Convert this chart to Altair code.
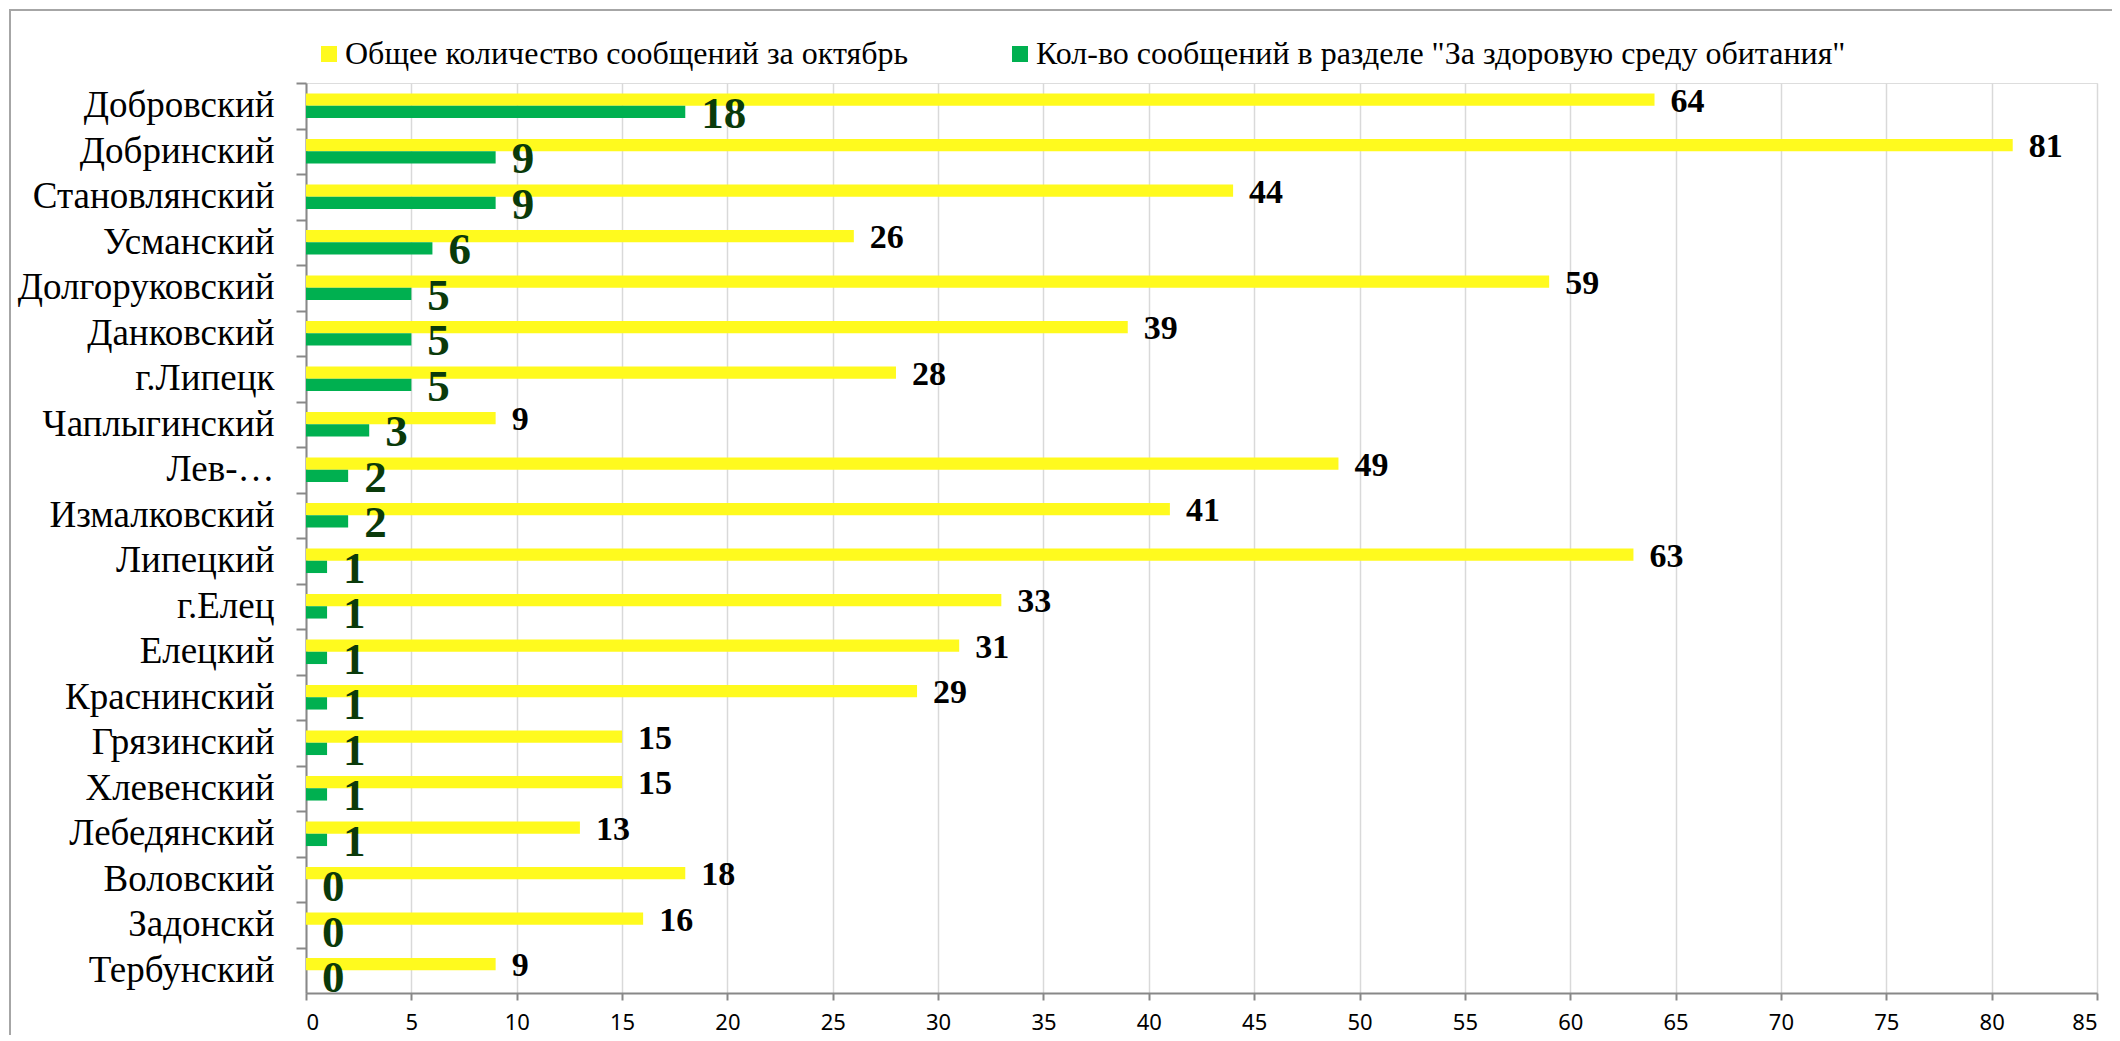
import altair as alt
import pandas as pd

districts = ["Добровский", "Добринский", "Становлянский", "Усманский", "Долгоруковский",
             "Данковский", "г.Липецк", "Чаплыгинский", "Лев-…", "Измалковский",
             "Липецкий", "г.Елец", "Елецкий", "Краснинский", "Грязинский",
             "Хлевенский", "Лебедянский", "Воловский", "Задонскй", "Тербунский"]
total_oct = [64, 81, 44, 26, 59, 39, 28, 9, 49, 41, 63, 33, 31, 29, 15, 15, 13, 18, 16, 9]
healthy_env = [18, 9, 9, 6, 5, 5, 5, 3, 2, 2, 1, 1, 1, 1, 1, 1, 1, 0, 0, 0]
series_names = ["Общее количество сообщений за октябрь",
                "Кол-во сообщений в разделе \"За здоровую среду обитания\""]
series_colors = ["#FFFA1E", "#00B050"]
x_ticks = list(range(0, 90, 5))

rows = []
for d, t, h in zip(districts, total_oct, healthy_env):
    rows.append({"district": d, "series": series_names[0], "value": t})
    rows.append({"district": d, "series": series_names[1], "value": h})
df = pd.DataFrame(rows)

W, H = 1791, 910
SERIF = "Liberation Serif"

y_enc = alt.Y("district:N", sort=districts,
              scale=alt.Scale(paddingInner=0.46, paddingOuter=0.23),
              axis=alt.Axis(title=None, labelFont=SERIF, labelFontSize=37, labelColor="#000000",
                            labelPadding=22, tickSize=10, tickColor="#888888", tickWidth=2,
                            domainColor="#888888", domainWidth=2, grid=False,
                            tickOffset=-22.75, labelOffset=22.75, labelLimit=400))
x_enc = alt.X("value:Q", scale=alt.Scale(domain=[0, 85], nice=False),
              axis=alt.Axis(title=None, values=x_ticks, labelFont="Noto Sans", labelFontSize=22,
                            labelColor="#000000", tickSize=7, tickColor="#888888", tickWidth=2,
                            domainColor="#888888", domainWidth=2, labelPadding=12,
                            grid=True, gridColor="#D9D9D9", gridWidth=1.5))
yoff = alt.YOffset("series:N", sort=series_names,
                   scale=alt.Scale(domain=series_names, paddingInner=0, paddingOuter=0))

bars = alt.Chart(df).mark_bar(size=12.3).encode(
    y=y_enc, x=x_enc, yOffset=yoff,
    color=alt.Color("series:N", sort=series_names,
                    scale=alt.Scale(domain=series_names, range=series_colors),
                    legend=alt.Legend(title=None, orient="none", direction="horizontal",
                                      legendX=7, legendY=-45, symbolType="square",
                                      symbolSize=256, symbolStrokeWidth=0, labelFont=SERIF,
                                      labelFontSize=32, labelColor="#000000", labelOffset=0,
                                      columnPadding=95, labelLimit=1200))
)

lab_total = alt.Chart(df).transform_filter(
    alt.datum.series == series_names[0]
).mark_text(align="left", baseline="middle", dx=16, dy=2, font=SERIF, fontSize=34,
            fontWeight="bold", color="#000000").encode(
    y=alt.Y("district:N", sort=districts), x="value:Q", yOffset=yoff, text="value:Q")

lab_env = alt.Chart(df).transform_filter(
    alt.datum.series == series_names[1]
).mark_text(align="left", baseline="middle", dx=16, dy=2, font=SERIF, fontSize=45,
            fontWeight="bold", color="#0A3A0A").encode(
    y=alt.Y("district:N", sort=districts), x="value:Q", yOffset=yoff, text="value:Q")

frame = alt.Chart(pd.DataFrame({"f": [0]})).mark_rect(
    fill=None, stroke="#A6A6A6", strokeWidth=2).encode(
    x=alt.value(-296), x2=alt.value(2300), y=alt.value(-73), y2=alt.value(1400))

chart = alt.layer(frame, bars, lab_total, lab_env).properties(
    width=W, height=H,
    autosize=alt.AutoSizeParams(type="none"),
    padding={"left": 298, "top": 75, "right": 15, "bottom": 42},
).configure_view(stroke=None).configure(background="#FFFFFF")

chart.save("out.html", embed_options={"renderer": "svg", "actions": False})
